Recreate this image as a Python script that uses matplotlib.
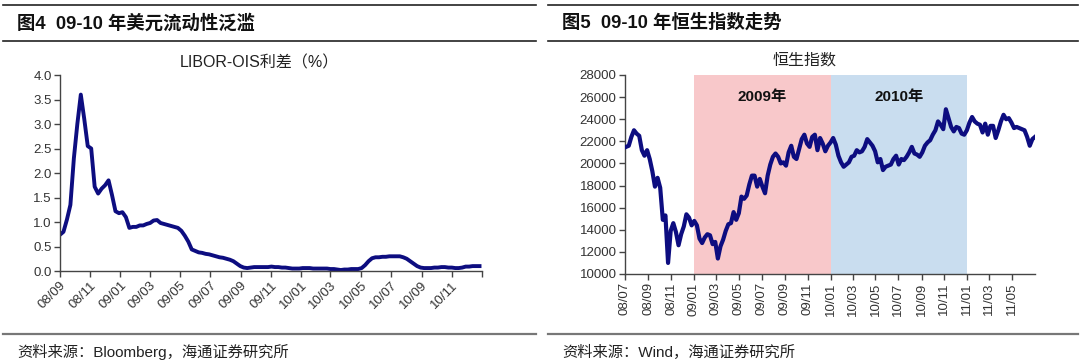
import pandas as pd
import matplotlib
matplotlib.use('Agg')
import matplotlib.pyplot as plt
from matplotlib.lines import Line2D

plt.rcParams['font.family'] = ['Liberation Sans', 'Noto Sans CJK SC', 'DejaVu Sans']

# LIBOR-OIS spread (%), weekly (Mondays) from 2008-09-01
libor_start = '2008-09-01'
libor_ois = [
    0.74, 0.80, 1.05, 1.35, 2.30, 3.00, 3.60, 3.10, 2.55, 2.50, 1.72, 1.58, 1.68, 1.75, 1.85, 1.55, 1.22, 1.18,
    1.20, 1.10, 0.88, 0.90, 0.90, 0.93, 0.93, 0.96, 0.98, 1.03, 1.04, 0.98, 0.96, 0.94, 0.92, 0.90, 0.88,
    0.82, 0.72, 0.60, 0.44, 0.41, 0.38, 0.37, 0.35, 0.34, 0.32, 0.30, 0.28, 0.27, 0.25, 0.23, 0.20, 0.15,
    0.10, 0.07, 0.06, 0.07, 0.08, 0.08, 0.08, 0.08, 0.08, 0.09, 0.08, 0.08, 0.07, 0.07, 0.06, 0.05, 0.05, 0.05,
    0.06, 0.06, 0.06, 0.05, 0.05, 0.05, 0.05, 0.05, 0.04, 0.04, 0.03, 0.02, 0.03, 0.03, 0.04, 0.04, 0.04,
    0.06, 0.12, 0.20, 0.26, 0.28, 0.28, 0.29, 0.29, 0.30, 0.30, 0.30, 0.30, 0.28, 0.25, 0.20, 0.15, 0.10,
    0.07, 0.06, 0.06, 0.06, 0.07, 0.07, 0.08, 0.08, 0.07, 0.07, 0.06, 0.06, 0.07, 0.09, 0.09, 0.10, 0.10, 0.10,
]

# Hang Seng index, weekly (Fridays) from 2008-07-04
hsi_start = '2008-07-04'
hsi = [
    21500, 21600, 22400, 23000,
    22700, 22500, 21200, 20700, 21200,
    20400, 19300, 17900, 18700,
    17800, 14900, 15300, 11000, 13900,
    14600, 13800, 12600, 13600,
    14300, 15400, 15100, 14400,
    14800, 14400, 13200, 12800, 13300,
    13600, 13500, 12700, 12900,
    11400, 12500, 13100, 13900,
    14500, 14600, 15600, 14900,
    15500, 17000, 16800, 17100, 18100,
    18900, 18900, 17900, 18600,
    17900, 17300, 18900, 19900, 20600,
    20900, 20600, 20000, 20100,
    19800, 21000, 21600, 20600,
    20400, 21300, 22200, 22600, 21800,
    21500, 22400, 22600, 21200,
    22300, 21800, 21100, 21600,
    21900, 22300, 21700, 20700, 20100,
    19700, 19900, 20100, 20600,
    20700, 21200, 21000, 21100,
    21500, 22200, 21900, 21600, 21100,
    20100, 20400, 19400, 19700,
    19800, 19900, 20400, 20700,
    19900, 20400, 20300, 20600, 21000,
    21500, 20900, 20800, 20600,
    21000, 21600, 21900, 22100,
    22600, 23000, 23800, 23500, 23100,
    24900, 24100, 23300, 22900,
    23300, 23200, 22700, 22600, 23000,
    23700, 24200, 23800, 23600,
    23500, 22800, 23600, 22600,
    23400, 23400, 22300, 23000,
    23800, 24400, 24000, 24100, 23700,
    23200, 23300, 23200, 23100,
    23000, 22400, 21600, 22200,
    22400,
]

year_spans = [('2009-01-01', '2010-01-01', '2009年', '#F8C8CA'),
              ('2010-01-01', '2011-01-01', '2010年', '#C9DDEF')]

LINE = '#0D0D80'
TXT = '#333333'

libor_dates = pd.date_range(libor_start, periods=len(libor_ois), freq='7D')
hsi_dates = pd.date_range(hsi_start, periods=len(hsi), freq='7D')

W, H = 1080, 362
fig = plt.figure(figsize=(W / 100, H / 100), dpi=100)


def fx(px):
    return px / W


def fy(py):
    return 1 - py / H


# frame lines and titles
for x0, x1 in [(3, 536), (548, 1078)]:
    fig.add_artist(Line2D([fx(x0), fx(x1)], [fy(5), fy(5)], color='#222222', lw=1.2))
    fig.add_artist(Line2D([fx(x0), fx(x1)], [fy(41), fy(41)], color='#222222', lw=1.2))
    fig.add_artist(Line2D([fx(x0), fx(x1)], [fy(333.5), fy(333.5)], color='#777777', lw=1.6))

fig.text(fx(17), fy(23), '图4  09-10 年美元流动性泛滥', fontsize=13.2, fontweight='bold',
         va='center', ha='left', color='#111111')
fig.text(fx(562), fy(23), '图5  09-10 年恒生指数走势', fontsize=13.2, fontweight='bold',
         va='center', ha='left', color='#111111')
fig.text(fx(17), fy(352), '资料来源：Bloomberg，海通证券研究所', fontsize=11,
         va='center', ha='left', color='#222222')
fig.text(fx(562), fy(352), '资料来源：Wind，海通证券研究所', fontsize=11,
         va='center', ha='left', color='#222222')


def style_axes(ax):
    for s in ['top', 'right']:
        ax.spines[s].set_visible(False)
    for s in ['left', 'bottom']:
        ax.spines[s].set_color('#444444')
        ax.spines[s].set_linewidth(1.0)
    ax.tick_params(axis='both', direction='out', length=4, width=1.0, color='#444444',
                   labelsize=9.5, labelcolor=TXT, pad=2)


# left chart: LIBOR-OIS
ax1 = fig.add_axes([fx(60), fy(271), fx(482 - 60), (271 - 75) / H])
ax1.plot(libor_dates, libor_ois, color=LINE, lw=2.8, solid_joinstyle='round')
ax1.set_xlim(pd.Timestamp('2008-09-01'), pd.Timestamp('2011-01-01'))
ax1.set_ylim(0, 4)
ax1.set_yticks([0, 0.5, 1.0, 1.5, 2.0, 2.5, 3.0, 3.5, 4.0])
ax1.yaxis.set_major_formatter(matplotlib.ticker.FormatStrFormatter('%.1f'))
ticks1 = pd.date_range('2008-09-01', '2011-01-01', freq='2MS')
ax1.set_xticks(ticks1)
ax1.set_xticklabels([t.strftime('%y/%m') for t in ticks1[:-1]] + [''],
                    rotation=45, ha='right', rotation_mode='anchor')
style_axes(ax1)
fig.text(fx(259), fy(63), 'LIBOR-OIS利差（%）', fontsize=11.5, ha='center', va='center', color='#222222')

# right chart: Hang Seng
ax2 = fig.add_axes([fx(625), fy(274), fx(1035 - 625), (274 - 75) / H])
for start, end, label, col in year_spans:
    s, e = pd.Timestamp(start), pd.Timestamp(end)
    ax2.axvspan(s, e, color=col, lw=0, zorder=0)
    ax2.text(s + (e - s) / 2, 26000, label, ha='center', va='center',
             fontsize=11, fontweight='bold', color='#111111')
ax2.plot(hsi_dates, hsi, color=LINE, lw=3.0, solid_joinstyle='round', zorder=3)
ax2.set_xlim(pd.Timestamp('2008-07-01'), pd.Timestamp('2011-07-01'))
ax2.set_ylim(10000, 28000)
ax2.set_yticks(range(10000, 28001, 2000))
ticks2 = pd.date_range('2008-07-01', '2011-05-01', freq='2MS')
ax2.set_xticks(ticks2)
ax2.set_xticklabels([t.strftime('%y/%m') for t in ticks2], rotation=90, ha='center', va='top')
style_axes(ax2)
fig.text(fx(805), fy(60), '恒生指数', fontsize=11.5, ha='center', va='center', color='#222222')

fig.savefig('out.png', dpi=100)
